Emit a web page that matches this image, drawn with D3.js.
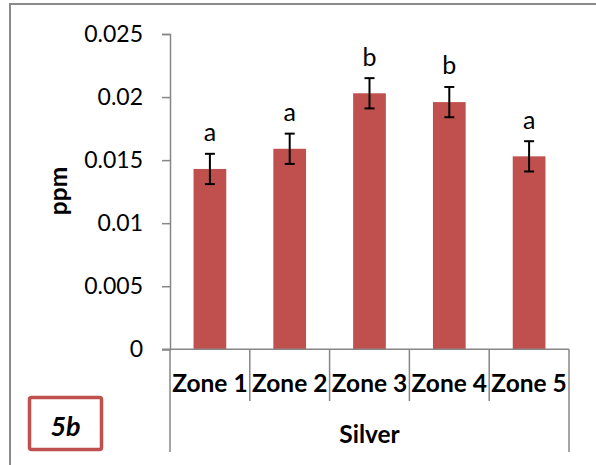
<!DOCTYPE html>
<html>
<head>
<meta charset="utf-8">
<script src="https://cdn.jsdelivr.net/npm/d3@7"></script>
<style>
  html, body { margin: 0; padding: 0; background: #fff; }
  svg { display: block; }
  text { font-family: Lato, "Open Sans", sans-serif; fill: #000; }
</style>
</head>
<body>
<svg id="chart" width="596" height="465"></svg>
<script>
// Silver concentration by zone (ppm), mean ± error, with significance letters
const zones = ["Zone 1", "Zone 2", "Zone 3", "Zone 4", "Zone 5"];
const silverMeans = [0.0143, 0.0159, 0.0203, 0.0196, 0.0153];
const silverErrors = [0.0012, 0.0012, 0.0012, 0.0012, 0.0012];
const groupLetters = ["a", "a", "b", "b", "a"];
const yTicks = [0, 0.005, 0.01, 0.015, 0.02, 0.025];
const yTickLabels = ["0", "0.005", "0.01", "0.015", "0.02", "0.025"];
const groupTitle = "Silver";
const yTitle = "ppm";
const panelTag = "5b";

const svg = d3.select("#chart");
const axisColor = "#868686";
const barColor = "#C0504D";

const plot = { left: 170, right: 569, top: 34, bottom: 349.3 };

const x = d3.scaleBand().domain(zones).range([plot.left, plot.right]).padding(0);
const y = d3.scaleLinear().domain([0, 0.025]).range([plot.bottom, plot.top]);
const barW = x.bandwidth() * 0.41;

// outer frame
svg.append("path")
  .attr("d", "M10,465V4H596")
  .attr("fill", "none")
  .attr("stroke", "#8a8a8a")
  .attr("stroke-width", 2);

// bars
svg.append("g").selectAll("rect")
  .data(zones)
  .join("rect")
  .attr("x", (d) => x(d) + x.bandwidth() / 2 - barW / 2)
  .attr("width", barW)
  .attr("y", (d, i) => y(silverMeans[i]))
  .attr("height", (d, i) => y(0) - y(silverMeans[i]))
  .attr("fill", barColor);

// error bars
const eb = svg.append("g").attr("stroke", "#000").attr("stroke-width", 2);
zones.forEach((z, i) => {
  const cx = x(z) + x.bandwidth() / 2;
  const hi = y(silverMeans[i] + silverErrors[i]);
  const lo = y(silverMeans[i] - silverErrors[i]);
  eb.append("line").attr("x1", cx).attr("x2", cx).attr("y1", hi).attr("y2", lo);
  eb.append("line").attr("x1", cx - 5).attr("x2", cx + 5).attr("y1", hi).attr("y2", hi);
  eb.append("line").attr("x1", cx - 5).attr("x2", cx + 5).attr("y1", lo).attr("y2", lo);
});

// significance letters
svg.append("g").selectAll("text")
  .data(zones)
  .join("text")
  .attr("x", (d) => x(d) + x.bandwidth() / 2)
  .attr("y", (d, i) => y(silverMeans[i] + silverErrors[i]) - 12.5)
  .attr("text-anchor", "middle")
  .style("font-size", "25px")
  .text((d, i) => groupLetters[i]);

// y axis
const yAxis = d3.axisLeft(y)
  .tickValues(yTicks)
  .tickFormat((d, i) => yTickLabels[i])
  .tickSize(8)
  .tickPadding(19);
const gy = svg.append("g").attr("transform", `translate(${plot.left},0)`).call(yAxis);
gy.select(".domain").attr("stroke", axisColor).attr("stroke-width", 1.5);
gy.selectAll(".tick line").attr("stroke", axisColor).attr("stroke-width", 1.5);
gy.selectAll(".tick text")
  .style("font-family", "Lato, sans-serif")
  .style("font-size", "23px")
  .attr("fill", "#000");

// x axis baseline
svg.append("line")
  .attr("x1", plot.left - 8).attr("x2", plot.right)
  .attr("y1", y(0)).attr("y2", y(0))
  .attr("stroke", axisColor).attr("stroke-width", 1.5);

// category dividers: inner ones short, outer ones reaching the group row
const edges = zones.map((z) => x(z)).concat([plot.right]);
svg.append("g").selectAll("line")
  .data(edges)
  .join("line")
  .attr("x1", (d) => d).attr("x2", (d) => d)
  .attr("y1", y(0))
  .attr("y2", (d, i) => (i === 0 || i === edges.length - 1) ? 452 : 401)
  .attr("stroke", axisColor).attr("stroke-width", 1.5);

// category labels
svg.append("g").selectAll("text")
  .data(zones)
  .join("text")
  .attr("x", (d) => x(d) + x.bandwidth() / 2)
  .attr("y", 392)
  .attr("text-anchor", "middle")
  .style("font-size", "24.5px")
  .style("font-weight", "bold")
  .text((d) => d);

// group label
svg.append("text")
  .attr("x", (plot.left + plot.right) / 2)
  .attr("y", 443)
  .attr("text-anchor", "middle")
  .style("font-size", "24.5px")
  .style("font-weight", "bold")
  .text(groupTitle);

// y title
svg.append("text")
  .attr("transform", "translate(67,191) rotate(-90)")
  .attr("text-anchor", "middle")
  .style("font-size", "24.5px")
  .style("font-weight", "bold")
  .text(yTitle);

// panel tag
svg.append("rect")
  .attr("x", 29.5).attr("y", 397.5)
  .attr("width", 72).attr("height", 52)
  .attr("rx", 2)
  .attr("fill", "#fff")
  .attr("stroke", barColor)
  .attr("stroke-width", 3.5);
svg.append("text")
  .attr("x", 65.5).attr("y", 436)
  .attr("text-anchor", "middle")
  .style("font-size", "27px")
  .style("font-weight", "bold")
  .style("font-style", "italic")
  .text(panelTag);
</script>
</body>
</html>
